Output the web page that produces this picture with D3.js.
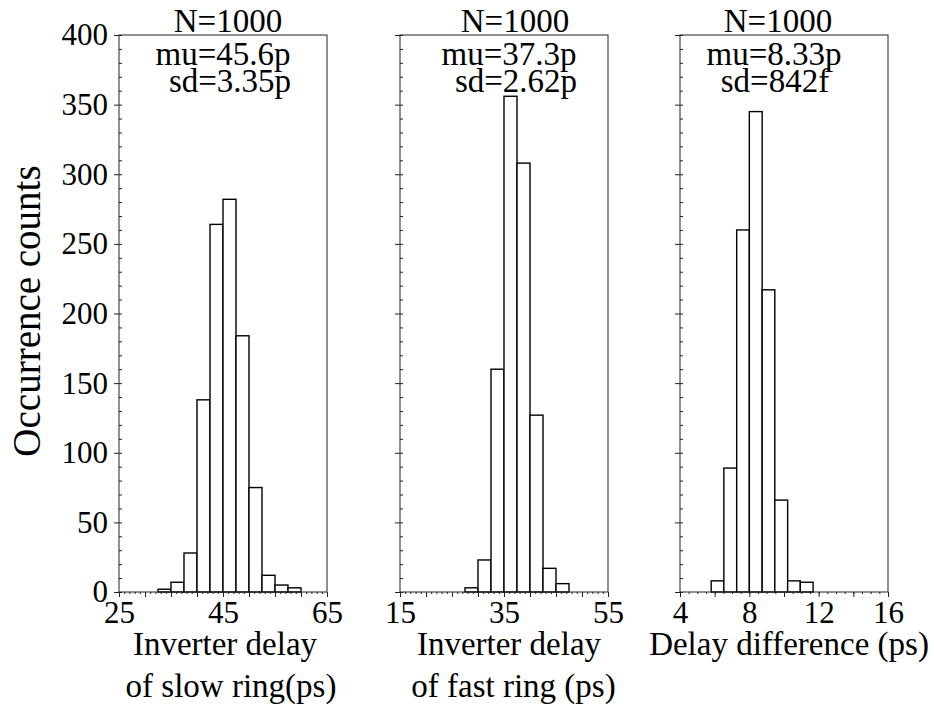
<!DOCTYPE html>
<html>
<head>
<meta charset="utf-8">
<script src="https://cdn.jsdelivr.net/npm/d3@7"></script>
<style>
body{margin:0;background:#fff}
text{font-family:"Liberation Serif","Times New Roman",serif;fill:#000}
</style>
</head>
<body>
<div id="chart"></div>
<script>
var width = 934;
var height = 708;
var plotTop = 35, plotBottom = 592, panelW = 208;
var panelLeft = [119, 400, 680];

// histogram bin edges and counts
var slowEdges = [32.5,35,37.5,40,42.5,45,47.5,50,52.5,55,57.5,60];
var slowCounts = [2,7,28,138,264,282,184,75,12,5,3];
var fastEdges = [27.5,30,32.5,35,37.5,40,42.5,45,47.5];
var fastCounts = [3,23,160,356,308,127,17,6];
var diffEdges = [5.8,6.53,7.27,8.0,8.74,9.47,10.21,10.94,11.68];
var diffCounts = [8,89,260,345,217,66,8,7];

var xDomains = [[25,65],[15,55],[4,16]];
var xLabelTicks = [[25,45,65],[15,35,55],[4,8,12,16]];
var xMajorStep = [5,5,2];
var xMinorStep = [1,1,0.5];
var yDomain = [0,400];
var yMajor = [0,50,100,150,200,250,300,350,400];
var yMinorStep = 10;

var statN = ["N=1000","N=1000","N=1000"];
var statMu = ["mu=45.6p","mu=37.3p","mu=8.33p"];
var statSd = ["sd=3.35p","sd=2.62p","sd=842f"];
var xTitles = [["Inverter delay","of slow ring(ps)"],["Inverter delay","of fast ring (ps)"],["Delay difference (ps)"]];
var yTitle = "Occurrence counts";

// small nudges of the text so it sits like in the original
var statDx = [[5,0,7],[11,5,12],[-6,-10,-9]];
var titleDx = [[2,8],[5,9.5],[5]];

var panels = [
  {edges: slowEdges, counts: slowCounts},
  {edges: fastEdges, counts: fastCounts},
  {edges: diffEdges, counts: diffCounts}
];

var svg = d3.select("#chart").append("svg")
  .attr("width", width)
  .attr("height", height);

var yScale = d3.scaleLinear().domain(yDomain).range([plotBottom, plotTop]);

function steps(a, b, s){
  var out = [];
  var n = Math.round((b - a) / s);
  for(var i = 0; i <= n; i++) out.push(+(a + i * s).toFixed(4));
  return out;
}

panels.forEach(function(p, k){
  var x0 = panelLeft[k];
  var xScale = d3.scaleLinear().domain(xDomains[k]).range([x0, x0 + panelW]);
  var g = svg.append("g");

  // bars
  var bins = p.counts.map(function(c, i){ return {a: p.edges[i], b: p.edges[i+1], c: c}; });
  g.selectAll("rect.bar").data(bins).enter().append("rect")
    .attr("class","bar")
    .attr("x", function(d){ return xScale(d.a); })
    .attr("width", function(d){ return xScale(d.b) - xScale(d.a); })
    .attr("y", function(d){ return yScale(d.c); })
    .attr("height", function(d){ return yScale(0) - yScale(d.c); })
    .attr("fill","#fff")
    .attr("stroke","#000")
    .attr("stroke-width",1.4);

  // x axis: minor then major ticks
  var xMinor = d3.axisBottom(xScale)
    .tickValues(steps(xDomains[k][0], xDomains[k][1], xMinorStep[k]))
    .tickSize(2).tickFormat("");
  g.append("g").attr("transform","translate(0,"+plotBottom+")").call(xMinor);

  var labels = xLabelTicks[k];
  var xMajor = d3.axisBottom(xScale)
    .tickValues(steps(xDomains[k][0], xDomains[k][1], xMajorStep[k]))
    .tickSize(5).tickPadding(4)
    .tickFormat(function(d){ return labels.indexOf(d) >= 0 ? d : ""; });
  g.append("g").attr("transform","translate(0,"+plotBottom+")").call(xMajor);

  // y axis
  var yMinor = d3.axisLeft(yScale)
    .tickValues(steps(yDomain[0], yDomain[1], yMinorStep))
    .tickSize(-3).tickFormat("");
  g.append("g").attr("transform","translate("+x0+",0)").call(yMinor);

  var yAx = d3.axisLeft(yScale)
    .tickValues(yMajor)
    .tickSize(5).tickPadding(6)
    .tickFormat(k == 0 ? d3.format("d") : "");
  g.append("g").attr("transform","translate("+x0+",0)").call(yAx);

  g.selectAll(".domain").remove();
  g.selectAll(".tick line").attr("stroke","#222");
  g.selectAll(".tick text").attr("font-size",31).attr("fill","#000")
    .style("font-family","'Liberation Serif','Times New Roman',serif");

  // frame
  g.append("rect")
    .attr("x", x0).attr("y", plotTop)
    .attr("width", panelW).attr("height", plotBottom - plotTop)
    .attr("fill","none").attr("stroke","#222").attr("stroke-width",1);

  // stats text
  var cx = x0 + panelW / 2;
  var stats = [statN[k], statMu[k], statSd[k]];
  var statY = [32, 65, 92];
  stats.forEach(function(s, i){
    g.append("text")
      .attr("x", cx + statDx[k][i]).attr("y", statY[i])
      .attr("text-anchor","middle").attr("font-size",33)
      .text(s);
  });

  // x title
  var titleY = [655, 697];
  xTitles[k].forEach(function(s, i){
    g.append("text")
      .attr("x", cx + titleDx[k][i]).attr("y", titleY[i])
      .attr("text-anchor","middle").attr("font-size",33)
      .text(s);
  });
});

svg.append("text")
  .attr("transform","translate(40,311) rotate(-90)")
  .attr("text-anchor","middle")
  .attr("font-size",39)
  .text(yTitle);
</script>
</body>
</html>
